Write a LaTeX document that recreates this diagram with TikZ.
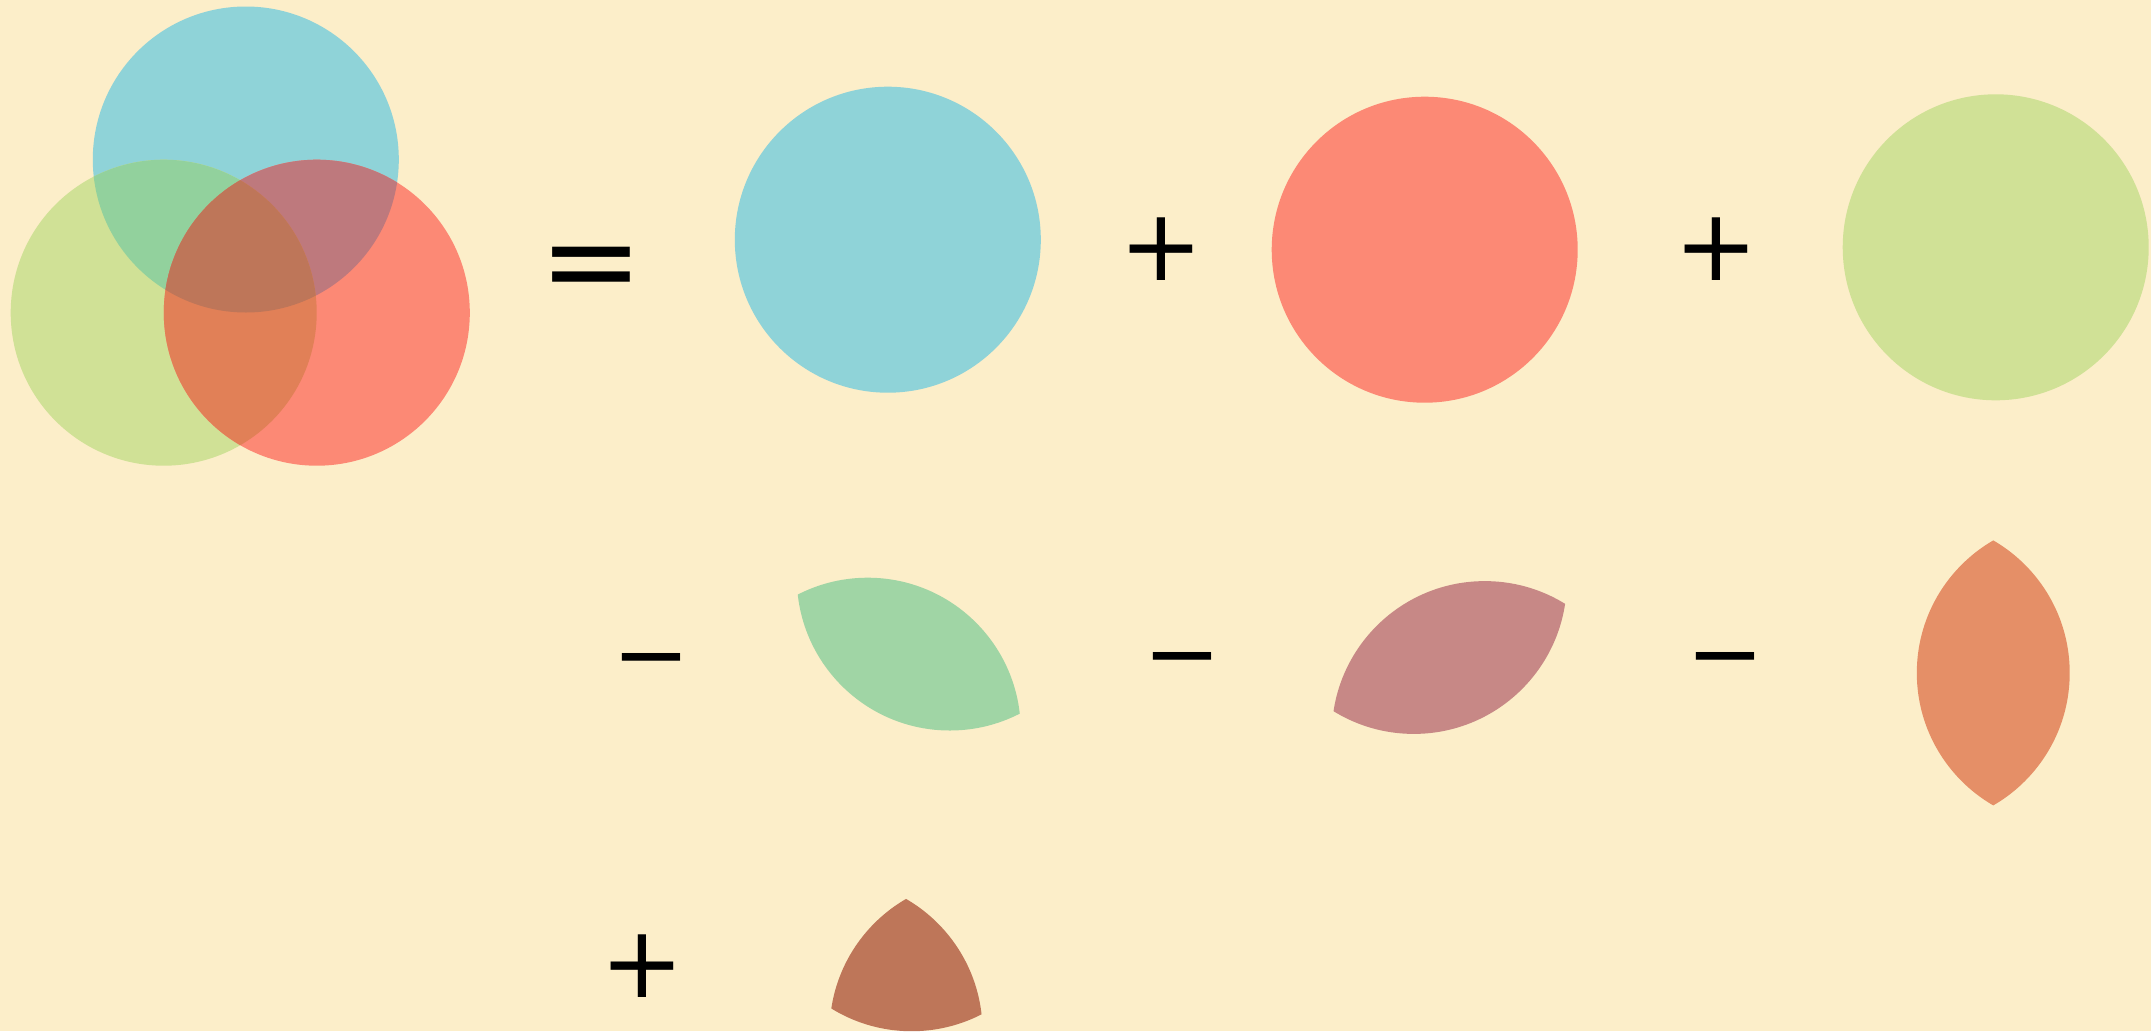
\documentclass[tikz,border=0pt]{standalone}
\usepackage{fontspec}
\setmainfont{DejaVu Sans}
\definecolor{bg}{HTML}{FCEEC9}
\definecolor{cyanc}{HTML}{8FD3D8}
\definecolor{redc}{HTML}{FC8975}
\definecolor{greenc}{HTML}{D0E196}
\definecolor{vcg}{HTML}{92D19D}
\definecolor{vcr}{HTML}{BE797D}
\definecolor{vgr}{HTML}{E18057}
\definecolor{vtri}{HTML}{BE7659}
\definecolor{lcg}{HTML}{A0D5A5}
\definecolor{lcr}{HTML}{C78886}
\definecolor{lgr}{HTML}{E58F67}
\def\rr{153pt}
\def\Cc{(245.8,159.5)}
\def\Gc{(163.7,312.7)}
\def\Rc{(316.8,312.7)}
\tikzset{
  symb/.style={inner sep=0pt, outer sep=0pt, text=black},
}
\begin{document}
\begin{tikzpicture}[x=1pt,y=-1pt]
\fill[bg] (0,0) rectangle (2151,1031);
\useasboundingbox (0,0) rectangle (2151,1031);
% Venn diagram
\fill[cyanc] \Cc circle[radius=\rr];
\fill[greenc] \Gc circle[radius=\rr];
\fill[redc] \Rc circle[radius=\rr];
\begin{scope}
  \clip \Cc circle[radius=\rr];
  \fill[vcg] \Gc circle[radius=\rr];
  \fill[vcr] \Rc circle[radius=\rr];
\end{scope}
\begin{scope}
  \clip \Gc circle[radius=\rr];
  \fill[vgr] \Rc circle[radius=\rr];
\end{scope}
\begin{scope}
  \clip \Cc circle[radius=\rr];
  \clip \Gc circle[radius=\rr];
  \fill[vtri] \Rc circle[radius=\rr];
\end{scope}
% single circles
\fill[cyanc] (887.8,239.7) circle[radius=\rr];
\fill[redc] (1424.7,249.7) circle[radius=\rr];
\fill[greenc] (1995.7,247.3) circle[radius=\rr];
% lenses
\begin{scope}[shift={(704,418)}]
  \clip \Cc circle[radius=\rr];
  \fill[lcg] \Gc circle[radius=\rr];
\end{scope}
\begin{scope}[shift={(1168,421.4)}]
  \clip \Cc circle[radius=\rr];
  \fill[lcr] \Rc circle[radius=\rr];
\end{scope}
\begin{scope}[shift={(1753,360.2)}]
  \clip \Gc circle[radius=\rr];
  \fill[lgr] \Rc circle[radius=\rr];
\end{scope}
\begin{scope}[shift={(665.8,718.7)}]
  \clip \Cc circle[radius=\rr];
  \clip \Gc circle[radius=\rr];
  \fill[vtri] \Rc circle[radius=\rr];
\end{scope}
% symbols
\node[symb, font=\fontsize{124}{124}\selectfont] (eq) at (591.5,275.7) {=};
\node[symb, font=\fontsize{100}{100}\selectfont] (p1) at (1161.3,249.5) {+};
\node[symb, font=\fontsize{100}{100}\selectfont] (p2) at (1716.5,249.5) {+};
\node[symb, font=\fontsize{93}{93}\selectfont] (m1) at (651,669.9) {−};
\node[symb, font=\fontsize{93}{93}\selectfont] (m2) at (1182.5,669.3) {−};
\node[symb, font=\fontsize{93}{93}\selectfont] (m3) at (1725.8,669.3) {−};
\node[symb, font=\fontsize{100}{100}\selectfont] (p3) at (642,966.2) {+};
\end{tikzpicture}
\end{document}
